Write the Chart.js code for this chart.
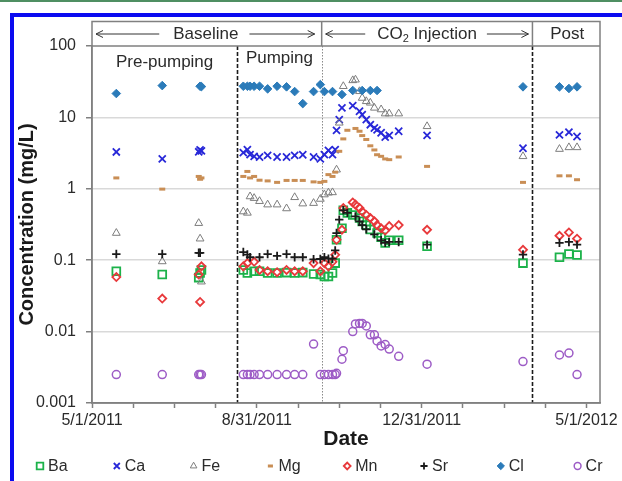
<!DOCTYPE html>
<html>
<head>
<meta charset="utf-8">
<script src="https://cdn.jsdelivr.net/npm/chart.js@4.4.1/dist/chart.umd.min.js"></script>
<style>
  html, body { margin: 0; padding: 0; background: #fff; }
  body { width: 622px; height: 481px; position: relative; overflow: hidden; }
  #topline { position: absolute; left: 0; top: 0; width: 622px; height: 2px; background: #4f8f62; }
  #frame { position: absolute; left: 10px; top: 13px; width: 700px; height: 600px;
           border-left: 4px solid #0b0bf0; border-top: 4px solid #0b0bf0; }
  #chart { position: absolute; left: 0; top: 0; }
</style>
</head>
<body>
<div id="topline"></div>
<div id="frame"></div>
<canvas id="chart" width="622" height="481"></canvas>
<script>
// 採水日 (2011/5/1 からの経過日数)
const sampleDays = [18, 52, 79, 80, 81, 112, 115, 117, 120, 124, 130, 137, 144, 150, 156,
    164, 169, 172, 175, 178, 180, 181, 183, 185, 186, 189, 193, 195, 198, 200,
    203, 206, 209, 211, 214, 217, 220, 227, 248, 319, 346, 353, 359];

// 濃度 (mg/L)、null = 測定なし
const baValues = [0.070, 0.063, 0.057, 0.066, 0.073,
    0.073, 0.066, null, 0.070, 0.070,
    0.066, 0.066, 0.067, 0.066, 0.067,
    0.064, 0.063, 0.059, 0.059, 0.066,
    0.091, 0.193, null, 0.28, 0.50,
    0.46, 0.43, null, 0.39, 0.35,
    0.31, 0.27, null, 0.24, 0.21,
    0.175, 0.19, 0.19, 0.157, 0.091,
    0.11, 0.122, 0.118];
const caValues = [3.28, 2.62, 3.3, 3.5, 3.4,
    3.21, 3.53, 3.01, 2.85, 2.79,
    2.94, 2.79, 2.79, 2.94, 3.0,
    2.79, 2.62, 3.01, 3.46, 3.01,
    3.53, 6.59, 9.31, 13.6, null,
    null, 14.6, null, 12.2, 10.9,
    9.31, 7.9, 7.1, 6.7, 6.1,
    5.3, 5.6, 6.4, 5.6, 3.7,
    5.7, 6.2, 5.4];
const feValues = [0.24, 0.096, 0.33, 0.2, 0.05,
    0.48, 0.46, 0.78, 0.74, 0.67,
    0.60, 0.60, 0.53, 0.76, 0.62,
    0.63, 0.72, 0.83, 0.88, 0.89,
    null, 1.85, 8.4, null, 27.3,
    null, 33, 33.7, 23.2, 18.7,
    16.8, 16.0, 13.6, null, 12.9,
    11.3, 11.3, 11.3, 7.5, 2.85,
    3.6, 3.8, 3.8];
const mgValues = [1.42, 0.99, 1.49, 1.36, 1.42,
    1.49, 1.75, 1.42, 1.49, 1.32,
    1.29, 1.23, 1.31, 1.31, 1.31,
    1.25, 1.23, 1.27, 1.58, 1.49,
    1.71, null, 3.35, null, 5.0,
    6.6, null, 7.0, 6.4, 5.56,
    4.9, 4.0, 3.5, 3.0, 2.85,
    2.62, 2.56, 2.79, 2.06, 1.23,
    1.52, 1.52, 1.34];
const mnValues = [0.058, 0.029, 0.063, 0.026, 0.082,
    0.082, 0.091, null, 0.095, 0.073,
    0.070, 0.068, 0.073, 0.070, 0.070,
    0.091, 0.070, 0.091, 0.082, 0.095,
    0.119, 0.193, null, 0.267, 0.538,
    null, 0.644, 0.60, 0.54, 0.48,
    0.43, 0.39, 0.35, 0.31, 0.28,
    0.26, 0.30, 0.31, 0.267, 0.14,
    0.22, 0.245, 0.20];
const srValues = [0.122, 0.122, 0.127, 0.127, null,
    0.13, 0.12, 0.11, null, 0.11,
    0.122, 0.115, 0.122, 0.11, 0.11,
    0.103, 0.104, 0.11, 0.105, 0.105,
    0.137, 0.24, 0.37, null, 0.50,
    0.46, null, 0.41, 0.35, 0.31,
    0.27, null, 0.23, null, 0.19,
    0.175, 0.18, 0.18, 0.165, 0.12,
    0.175, 0.18, 0.165];
const clValues = [21.6, 27.9, null, 27.3, 27.0,
    27.3, 27.3, 27.3, 27.3, 27.3,
    25.1, 27.3, 26.8, 23.0, 15.6,
    23.0, 28.8, 23.0, null, 23.0,
    null, null, null, 20.9, null,
    null, 23.8, null, null, 23.8,
    null, 23.8, null, 23.8, null,
    null, null, null, null, 26.8,
    26.8, 25.4, 26.8];
const crValues = [0.0025, 0.0025, 0.0025, 0.0025, 0.0025,
    0.0025, 0.0025, 0.0025, 0.0025, 0.0025,
    0.0025, 0.0025, 0.0025, 0.0025, 0.0025,
    0.0067, 0.0025, 0.0025, 0.0025, 0.0025,
    0.0025, 0.0026, null, 0.0041, 0.0054,
    null, 0.010, 0.0128, 0.013, 0.013,
    0.012, 0.009, 0.009, 0.0074, 0.0063,
    0.0066, 0.0057, 0.0045, 0.0035, 0.0038,
    0.0047, 0.0050, 0.0025];

const species = ['Ba', 'Ca', 'Fe', 'Mg', 'Mn', 'Sr', 'Cl', 'Cr'];
const seriesValues = [baValues, caValues, feValues, mgValues, mnValues, srValues, clValues, crValues];

// 軸ラベル
const xTickLabels = ['5/1/2011', '8/31/2011', '12/31/2011', '5/1/2012'];
const xLabelDays = [0, 122, 244, 366];
const yTickValues = [0.001, 0.01, 0.1, 1, 10, 100];
const yTickLabels = ['0.001', '0.01', '0.1', '1', '10', '100'];

// 区切り: 揚水開始, CO2注入開始, 注入後
const phaseBreakDays = [107.5, 170, 326];

const textColor = '#2b2b2b';
const axisColor = '#808080';
const fontFamily = "'Liberation Sans', Arial, sans-serif";

// マーカーの見た目
const markerStyles = {
    Ba: { pointStyle: 'rect', borderColor: '#1cb24a', backgroundColor: 'rgba(0,0,0,0)', pointRadius: 5.5, borderWidth: 1.8 },
    Ca: { pointStyle: 'crossRot', borderColor: '#2828d8', backgroundColor: 'rgba(0,0,0,0)', pointRadius: 5, borderWidth: 1.8 },
    Fe: { pointStyle: 'triangle', borderColor: '#7d7d7d', backgroundColor: 'rgba(0,0,0,0)', pointRadius: 4.5, borderWidth: 1 },
    Mg: { pointStyle: 'line', borderColor: '#c98e55', backgroundColor: '#c98e55', pointRadius: 3, borderWidth: 3 },
    Mn: { pointStyle: 'rectRot', borderColor: '#e8393b', backgroundColor: 'rgba(0,0,0,0)', pointRadius: 4, borderWidth: 1.8 },
    Sr: { pointStyle: 'cross', borderColor: '#1a1a1a', backgroundColor: 'rgba(0,0,0,0)', pointRadius: 4.2, borderWidth: 1.8 },
    Cl: { pointStyle: 'rectRot', borderColor: '#2b7bb9', backgroundColor: '#2b7bb9', pointRadius: 4.3, borderWidth: 1 },
    Cr: { pointStyle: 'circle', borderColor: '#9d5cc6', backgroundColor: 'rgba(0,0,0,0)', pointRadius: 4, borderWidth: 1.5 }
};

const datasets = species.map((name, i) => {
    const st = markerStyles[name];
    return {
        label: name,
        data: sampleDays
            .map((d, j) => ({ x: d, y: seriesValues[i][j] }))
            .filter(p => p.y !== null),
        pointStyle: st.pointStyle,
        pointRadius: st.pointRadius,
        pointBorderWidth: st.borderWidth,
        borderWidth: st.borderWidth,
        borderColor: st.borderColor,
        backgroundColor: st.backgroundColor,
        showLine: false,
        order: species.length - i
    };
});

function drawArrow(ctx, x1, x2, y) {
    // x2 が矢じり側
    const d = x2 > x1 ? -1 : 1;
    ctx.beginPath();
    ctx.moveTo(x1, y);
    ctx.lineTo(x2, y);
    ctx.moveTo(x2 + d * 7, y - 3.5);
    ctx.lineTo(x2, y);
    ctx.lineTo(x2 + d * 7, y + 3.5);
    ctx.stroke();
}

const phasePlugin = {
    id: 'phases',
    beforeDatasetsDraw(chart) {
        const { ctx, chartArea: a, scales: { x } } = chart;
        const lineStyles = [
            { color: '#1a1a1a', dash: [4, 2], width: 1.6 },
            { color: '#8a8a8a', dash: [1.5, 1.5], width: 1 },
            { color: '#1a1a1a', dash: [4, 2], width: 1.6 }
        ];
        ctx.save();
        phaseBreakDays.forEach((d, i) => {
            const px = Math.round(x.getPixelForValue(d)) + 0.5;
            ctx.strokeStyle = lineStyles[i].color;
            ctx.lineWidth = lineStyles[i].width;
            ctx.setLineDash(lineStyles[i].dash);
            ctx.beginPath();
            ctx.moveTo(px, a.top);
            ctx.lineTo(px, a.bottom);
            ctx.stroke();
        });
        ctx.setLineDash([]);

        // 期間名
        const xPump = x.getPixelForValue(phaseBreakDays[0]);
        const xInj = x.getPixelForValue(phaseBreakDays[1]);
        ctx.fillStyle = textColor;
        ctx.font = '17px ' + fontFamily;
        ctx.textAlign = 'center';
        ctx.textBaseline = 'middle';
        ctx.fillText('Pre-pumping', (a.left + xPump) / 2, a.top + 16);
        ctx.fillText('Pumping', (xPump + xInj) / 2, a.top + 12);
        ctx.restore();
    },
    afterDraw(chart) {
        const { ctx, chartArea: a, scales: { x } } = chart;
        const top = a.top - 24.5;
        const mid = top + 12.5;
        const xInj = x.getPixelForValue(phaseBreakDays[1]);
        const xPost = x.getPixelForValue(phaseBreakDays[2]);
        ctx.save();
        ctx.strokeStyle = axisColor;
        ctx.lineWidth = 1.5;
        ctx.strokeRect(a.left, top, a.right - a.left, a.bottom - top);
        ctx.beginPath();
        ctx.moveTo(a.left, a.top);
        ctx.lineTo(a.right, a.top);
        ctx.moveTo(xInj, top);
        ctx.lineTo(xInj, a.top);
        ctx.moveTo(xPost, top);
        ctx.lineTo(xPost, a.top);
        ctx.stroke();

        ctx.fillStyle = textColor;
        ctx.strokeStyle = '#333';
        ctx.lineWidth = 1;
        ctx.textBaseline = 'middle';
        ctx.textAlign = 'left';
        const big = '17px ' + fontFamily;
        const small = '11px ' + fontFamily;

        // Baseline
        ctx.font = big;
        const wBase = ctx.measureText('Baseline').width;
        const cBase = (a.left + xInj) / 2 - 1;
        ctx.fillText('Baseline', cBase - wBase / 2, mid);
        drawArrow(ctx, cBase - wBase / 2 - 14, a.left + 4, mid);
        drawArrow(ctx, cBase + wBase / 2 + 11, xInj - 7, mid);

        // CO2 Injection
        const wCO = ctx.measureText('CO').width;
        const wInj = ctx.measureText(' Injection').width;
        ctx.font = small;
        const w2 = ctx.measureText('2').width;
        const wAll = wCO + w2 + wInj;
        const cInj = (xInj + xPost) / 2;
        let tx = cInj - wAll / 2;
        ctx.font = big;
        ctx.fillText('CO', tx, mid);
        ctx.font = small;
        ctx.fillText('2', tx + wCO, mid + 5);
        ctx.font = big;
        ctx.fillText(' Injection', tx + wCO + w2, mid);
        drawArrow(ctx, tx - 12, xInj + 4, mid);
        drawArrow(ctx, tx + wAll + 10, xPost - 4, mid);

        // Post
        ctx.textAlign = 'center';
        ctx.fillText('Post', (xPost + a.right) / 2 + 1, mid);
        ctx.restore();
    }
};

// 凡例 (下部、等間隔)
const legendPlugin = {
    id: 'bottomLegend',
    afterDraw(chart) {
        const ctx = chart.ctx;
        const y = 466;
        const x0 = 40;
        const step = 76.8;
        chart.data.datasets.forEach((ds, i) => {
            const px = x0 + i * step;
            ctx.save();
            ctx.strokeStyle = ds.borderColor;
            ctx.fillStyle = ds.backgroundColor;
            ctx.lineWidth = ds.pointBorderWidth;
            Chart.helpers.drawPoint(ctx, {
                pointStyle: ds.pointStyle,
                radius: ds.pointRadius * 0.85,
                borderWidth: ds.pointBorderWidth,
                rotation: 0
            }, px, y);
            ctx.restore();
            ctx.save();
            ctx.fillStyle = textColor;
            ctx.font = '16px ' + fontFamily;
            ctx.textAlign = 'left';
            ctx.textBaseline = 'middle';
            ctx.fillText(ds.label, px + 8, y + 1);
            ctx.restore();
        });
    }
};

Chart.defaults.font.family = fontFamily;
Chart.defaults.color = textColor;

const ctx = document.getElementById('chart').getContext('2d');
const chart = new Chart(ctx, {
    type: 'scatter',
    data: { datasets: datasets },
    options: {
        responsive: false,
        animation: false,
        events: [],
        layout: { padding: { left: 14, right: 22, top: 46, bottom: 31 } },
        plugins: {
            legend: { display: false },
            tooltip: { enabled: false }
        },
        scales: {
            x: {
                type: 'linear',
                min: 0,
                max: 376,
                afterBuildTicks: scale => {
                    const ticks = [];
                    for (let k = 0; k <= 12; k++) ticks.push({ value: k * 30.5 });
                    scale.ticks = ticks;
                },
                afterFit: scale => {
                    scale.height = 47;
                    scale.paddingLeft = 0;
                    scale.paddingRight = 0;
                },
                ticks: {
                    autoSkip: false,
                    maxRotation: 0,
                    padding: 3,
                    color: textColor,
                    font: { size: 16 },
                    callback: (value, index) => {
                        const k = xLabelDays.indexOf(index * 30.5);
                        return k >= 0 ? xTickLabels[k] : '';
                    }
                },
                grid: {
                    drawOnChartArea: false,
                    tickLength: 5,
                    tickColor: axisColor,
                    tickWidth: 1.5
                },
                border: { color: axisColor, width: 1.5 },
                title: {
                    display: true,
                    text: 'Date',
                    color: '#1a1a1a',
                    font: { size: 21, weight: 'bold', lineHeight: 1 },
                    padding: { top: 0, bottom: 0 }
                }
            },
            y: {
                type: 'logarithmic',
                min: 0.001,
                max: 100,
                afterBuildTicks: scale => {
                    scale.ticks = yTickValues.map(v => ({ value: v }));
                },
                afterFit: scale => {
                    scale.width = 78;
                    scale.paddingTop = 0;
                    scale.paddingBottom = 0;
                },
                ticks: {
                    padding: 10,
                    color: textColor,
                    font: { size: 16 },
                    callback: (value, index) => yTickLabels[index]
                },
                grid: {
                    color: c => (c.tick && (c.tick.value === 100 || c.tick.value === 0.001)) ? 'rgba(0,0,0,0)' : '#d9d9d9',
                    lineWidth: 1.5,
                    tickLength: 6,
                    tickColor: axisColor,
                    tickWidth: 1.5
                },
                border: { color: axisColor, width: 1.5 },
                title: {
                    display: true,
                    text: 'Concentration (mg/L)',
                    color: '#1a1a1a',
                    font: { size: 20, weight: 'bold', lineHeight: 1.2 },
                    padding: { top: 1, bottom: 0 }
                }
            }
        }
    },
    plugins: [phasePlugin, legendPlugin]
});
</script>
</body>
</html>
